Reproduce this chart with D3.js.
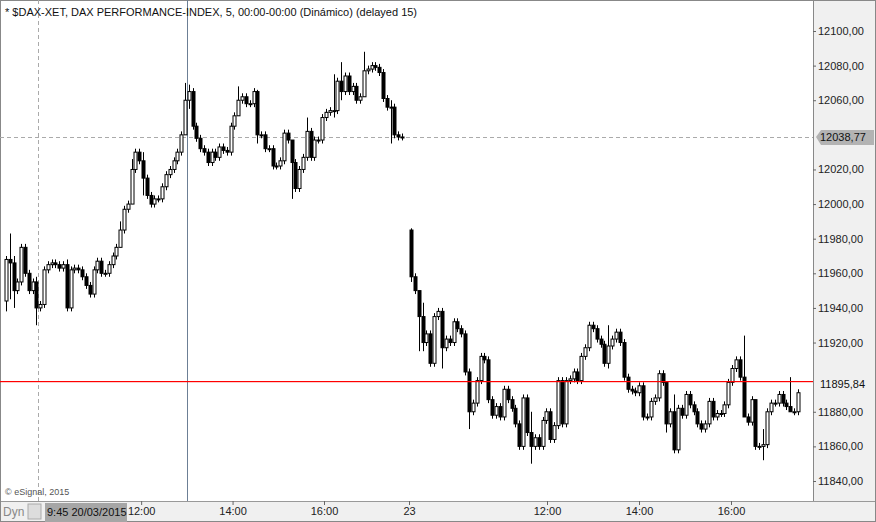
<!DOCTYPE html><html><head><meta charset="utf-8"><script src="https://cdn.jsdelivr.net/npm/d3@7"></script>
<style>body{margin:0;background:#fff}svg{display:block;font-family:Arial,"Liberation Sans",sans-serif}</style></head><body><svg id="c" width="876" height="522"></svg>
<script>
const title="* $DAX-XET, DAX PERFORMANCE-INDEX, 5, 00:00-00:00 (Dinámico) (delayed 15)";
const day1Open=11944;
const day1Close=[11968,11966,11950,11955,11975,11960,11950,11955,11940,11942,
11962,11965,11966,11965,11963,11965,11940,11962,11963,
11962,11958,11953,11948,11962,11967,11960,11960,11965,11970,11975,
11985,11997,12000,12020,12030,12025,12015,12005,12000,12003,12003,
12010,12017,12020,12025,12030,12040,12060,12065,12045,12038,12032,12030,
12024,12030,12027,12033,12031,12030,12045,12051,12060,12062,12058,12058,12065,12040,12040,12032,12032,12022,12022,12025,12041,12037,12024,12009,12020,12027,12042,12027,12037,12037,12050,12053,12054,12054,12071,12065,12074,12065,12068,12060,12062,12077,12078,12080,12079,12076,12061,12056,12056,12040,12038.77,12038.77];
const day2Open=11985;
const day2Close=[11958,11950,11935,11920,11925,11908,11935,11938,11917,11922,11920,11932,11928,11925,11903,11880,11885,11898,11912,11910,11887,11878,11883,11877,11893,11887,11882,11873,11860,11888,11868,11860,11865,11860,11875,11880,11864,11872,11898,11873,11898,11899,11903,11898,11912,11917,11930,11928,11922,
11919,11908,11918,11922,11926,11920,11900,11893,11892,11891,11895,11877,11877,11886,11888,11902,11897,11873,11880,11858,11882,11878,11890,11884,11880,11873,11870,11873,11886,11877,11879,11879,11884,11897,11905,11910,11900,11877,11874,11887,11860,11860,11861,11880,11885,11885,11890,11885,11883,11880,11880,11891];
// notable wicks: index -> [high, low]
const day1Wicks={0:[11970,11938],1:[11983,11945],2:[11970,11940],8:[11958,11930],16:[11968,11938],30:[11990,11982],33:[12026,12012],36:[12030,12005],47:[12070,12040],48:[12069,12055],61:[12068,12055],66:[12066,12035],75:[12025,12003],79:[12050,12025],86:[12075,12050],88:[12082,12060],94:[12088,12065],101:[12060,12035]};
const day2Wicks={0:[11986,11955],2:[11945,11915],3:[11943,11915],8:[11940,11905],15:[11905,11870],28:[11875,11858],31:[11880,11850],51:[11930,11905],66:[11895,11868],68:[11890,11856],86:[11924,11895],89:[11880,11858],91:[11870,11852],98:[11900,11880]};
const yTicks=[12100,12080,12060,12020,12000,11980,11960,11940,11920,11880,11860,11840];
const xTickLabels=[["12:00",180],["14:00",300],["16:00",420],["23",1440],["12:00",1620],["14:00",1740],["16:00",1860]];
const lastRef=12038.77, lastPrice=11895.84, redLevel=11898;

function build(open0,closes,wicks,base,n){let o=open0;return closes.map((c,i)=>{const w=wicks[i];const hi=w?w[0]:Math.max(o,c)+2,lo=w?w[1]:Math.min(o,c)-2;const d={t:base+i*5*(n/closes.length),o,c,h:Math.max(hi,o,c),l:Math.min(lo,o,c)};o=c;return d;});}
const candles=build(day1Open,day1Close,day1Wicks,0,105).concat(build(day2Open,day2Close,day2Wicks,1440,102));

const svg=d3.select("#c");
const W=813,H=501;
const y=d3.scaleLinear().domain([11840,12100]).range([481,31]);
const x=d3.scaleLinear().domain([0,525,1440,1950]).range([4,404,409,800]);
svg.append("rect").attr("x",0).attr("y",0).attr("width",876).attr("height",522).attr("fill","#fff");
svg.append("rect").attr("x",W).attr("y",0).attr("width",876-W).attr("height",522).attr("fill","#f0f0f0");
svg.append("rect").attr("x",0).attr("y",H).attr("width",876).attr("height",21).attr("fill","#f0f0f0");
svg.append("line").attr("x1",W+.5).attr("x2",W+.5).attr("y1",0).attr("y2",H).attr("stroke","#888");
svg.append("line").attr("x1",0).attr("x2",876).attr("y1",H+.5).attr("y2",H+.5).attr("stroke","#999");
svg.append("rect").attr("x",.5).attr("y",.5).attr("width",875).attr("height",521).attr("fill","none").attr("stroke","#888");

const ya=svg.append("g").attr("transform",`translate(${W},0)`).call(d3.axisRight(y).tickValues(yTicks).tickSize(3).tickFormat(d=>d3.format(".2f")(d).replace(".",",")));
ya.select(".domain").remove();ya.selectAll("line").attr("stroke","#666");
ya.selectAll("text").attr("font-size",11).attr("fill","#222").attr("x",5);
const xa=svg.append("g").attr("transform",`translate(0,${H})`).call(d3.axisBottom(x).tickValues(xTickLabels.map(d=>d[1])).tickSize(4).tickFormat((d,i)=>xTickLabels[i][0]));
xa.select(".domain").remove();xa.selectAll("line").attr("stroke","#666");
xa.selectAll("text").attr("font-size",11).attr("fill","#222").attr("dy","0.6em");

svg.append("line").attr("x1",38.5).attr("x2",38.5).attr("y1",0).attr("y2",H).attr("stroke","#aaa").attr("stroke-dasharray","4,3");
svg.append("line").attr("x1",187.5).attr("x2",187.5).attr("y1",0).attr("y2",H).attr("stroke","#6c7f95");
svg.append("line").attr("x1",0).attr("x2",W).attr("y1",Math.round(y(lastRef))+.5).attr("y2",Math.round(y(lastRef))+.5).attr("stroke","#aaa").attr("stroke-dasharray","4,3");

const g=svg.append("g");
candles.forEach(d=>{const cx=Math.round(x(d.t+2.5));
 g.append("line").attr("x1",cx+.5).attr("x2",cx+.5).attr("y1",y(d.h)).attr("y2",y(d.l)).attr("stroke","#000");
 const top=y(Math.max(d.o,d.c)),bh=Math.max(1,Math.abs(y(d.o)-y(d.c)));
 g.append("rect").attr("x",cx-1).attr("y",top).attr("width",3).attr("height",bh).attr("fill",d.c>=d.o?"#fff":"#000").attr("stroke","#000").attr("stroke-width",1);
});
const ry=Math.round(y(redLevel));
svg.append("rect").attr("x",0).attr("y",ry).attr("width",W).attr("height",1.2).attr("fill","#ff0000");

const ly=Math.round(y(lastRef));
svg.append("path").attr("d",`M${W+3},${ly} L${W+8},${ly-7} L874,${ly-7} L874,${ly+8} L${W+8},${ly+8}Z`).attr("fill","#b3b3b3");
svg.append("text").attr("x",W+7).attr("y",ly+4).attr("font-size",11).attr("fill","#111").text(d3.format(".2f")(lastRef).replace(".",","));
svg.append("text").attr("x",W+7).attr("y",Math.round(y(lastPrice))+4).attr("font-size",11).attr("fill","#111").text(d3.format(".2f")(lastPrice).replace(".",","));
svg.append("text").attr("x",5).attr("y",16).attr("font-size",11).attr("fill","#111").text(title);
svg.append("text").attr("x",5).attr("y",495).attr("font-size",9).attr("fill","#555").text("© eSignal, 2015");
svg.append("text").attr("x",3).attr("y",516).attr("font-size",12).attr("fill","#888").text("Dyn");
svg.append("rect").attr("x",28).attr("y",504).attr("width",13).attr("height",15).attr("fill","#ddd").attr("stroke","#aaa");
svg.append("rect").attr("x",45).attr("y",503).attr("width",82).attr("height",19).attr("fill","#a6a6a6");
svg.append("text").attr("x",47).attr("y",516).attr("font-size",11).attr("fill","#111").text("9:45 20/03/2015");
</script></body></html>
